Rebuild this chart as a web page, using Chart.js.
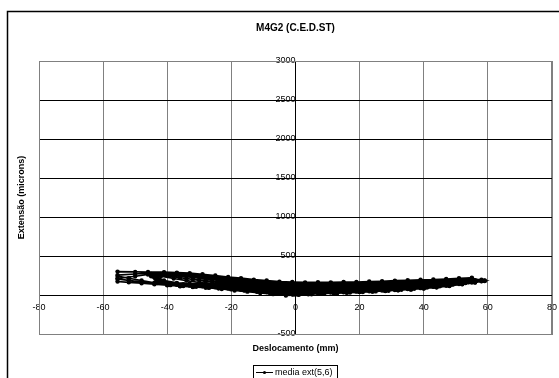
<!DOCTYPE html>
<html>
<head>
<meta charset="utf-8">
<title>M4G2 (C.E.D.ST)</title>
<script src="https://cdn.jsdelivr.net/npm/chart.js@4.4.1/dist/chart.umd.min.js"></script>
<style>
    html, body { margin: 0; padding: 0; background: #fff; overflow: hidden; }
    canvas { display: block; }
</style>
</head>
<body>
<canvas id="grafico" width="559" height="378"></canvas>
<script>

//
// Deslocamento (mm) for each half cycle: outgoing (ida) and return (volta).
// The logger did not sample at the same positions on every cycle.
//
const deslIda = [-45, -41, -37, -33, -29, -25, -21, -17, -13, -9, -5, -1, 3, 7, 11, 15, 19, 23, 27, 31, 35, 39, 43, 47, 51, 55, 58];
const deslIdaB = [-45, -43, -39, -35, -31, -27, -23, -19, -15, -11, -7, -3, 1, 5, 9, 13, 17, 21, 25, 29, 33, 37, 41, 45, 49, 53, 58];
const deslVolta = [54, 50, 46, 42, 38, 34, 30, 26, 22, 18, 14, 10, 6, 2, -2, -6, -10, -14, -18, -22, -26, -30, -34, -38, -42];
const deslVoltaB = [56, 52, 48, 44, 40, 36, 32, 28, 24, 20, 16, 12, 8, 4, 0, -4, -8, -12, -16, -20, -24, -28, -32, -36, -40];
const deslIdaLonga = [-55.5, -52, -48, -44, -40, -36, -32, -28, -24, -20, -16, -12, -8, -4, 0, 4, 8, 12, 16, 20, 24, 28, 32, 36, 40, 44, 48, 52, 56, 59];
const deslVoltaLonga = [55, 51, 47, 43, 39, 35, 31, 27, 23, 19, 15, 11, 7, 3, -1, -5, -9, -13, -17, -21, -25, -29, -33, -37, -41, -46, -50, -55.5];

//
// Extensao (microns), one array per half cycle.
//
const extIda1 = [271, 186, 156, 146, 139, 131, 116, 105, 98, 87, 81, 75, 77, 78, 83, 86, 91, 94, 103, 107, 117, 124, 137, 149, 166, 181, 196];
const extVolta1 = [196, 187, 175, 166, 159, 152, 145, 140, 135, 131, 128, 127, 128, 129, 133, 140, 150, 161, 175, 190, 205, 222, 239, 254, 270];
const extIda2 = [268, 180, 148, 140, 132, 123, 106, 97, 85, 77, 65, 61, 60, 65, 68, 75, 77, 85, 90, 98, 105, 117, 127, 143, 157, 176, 190];
const extVolta2 = [189, 178, 165, 155, 148, 140, 133, 128, 122, 119, 116, 116, 116, 118, 123, 130, 139, 149, 162, 177, 190, 206, 226, 243, 263];
const extIda3 = [263, 172, 144, 132, 127, 114, 100, 86, 76, 62, 53, 43, 47, 50, 57, 60, 67, 71, 80, 86, 97, 106, 121, 134, 153, 169, 186];
const extVolta3 = [181, 169, 155, 145, 136, 128, 120, 115, 110, 107, 105, 104, 105, 107, 112, 119, 128, 137, 149, 163, 175, 191, 212, 233, 255];
const extIda4 = [256, 166, 138, 126, 118, 108, 90, 78, 63, 52, 37, 28, 29, 38, 43, 50, 53, 62, 67, 77, 84, 99, 110, 128, 144, 166, 182];
const extVolta4 = [173, 159, 145, 133, 124, 114, 107, 102, 97, 94, 92, 92, 93, 96, 101, 108, 116, 124, 135, 149, 160, 175, 198, 221, 247];
const extIda5 = [248, 160, 132, 120, 113, 99, 84, 67, 54, 37, 25, 10, 16, 23, 32, 35, 43, 48, 57, 65, 76, 88, 104, 119, 140, 159, 178];
const extVolta5 = [164, 151, 134, 123, 111, 103, 94, 91, 84, 83, 79, 81, 81, 86, 89, 99, 104, 113, 121, 136, 144, 161, 184, 211, 240];
const extIda6 = [241, 154, 126, 114, 106, 91, 76, 57, 43, 25, 11, -6, 1, 9, 19, 23, 31, 37, 46, 54, 66, 79, 96, 111, 133, 154, 176];
const extVolta6 = [222, 214, 206, 199, 196, 189, 184, 177, 173, 167, 166, 162, 163, 162, 167, 171, 185, 197, 216, 231, 251, 267, 281, 287, 293, 295, 297, 300];
const extIdaA = [242, 215, 185, 158, 138, 122, 112, 102, 92, 80, 66, 50, 35, 22, 15, 18, 24, 30, 36, 42, 48, 55, 64, 75, 88, 103, 122, 142, 165, 185];
const extVoltaA = [212, 206, 195, 189, 183, 178, 171, 166, 160, 156, 153, 151, 151, 152, 155, 162, 173, 186, 202, 218, 235, 253, 267, 277, 286, 280, 270, 255];
const extIdaB = [205, 188, 165, 145, 128, 115, 104, 95, 85, 72, 57, 42, 28, 16, 10, 14, 20, 27, 33, 40, 46, 53, 62, 72, 85, 100, 118, 140, 162, 182];
const extVoltaB = [204, 196, 185, 177, 171, 164, 157, 153, 147, 143, 140, 139, 139, 140, 144, 150, 161, 173, 188, 204, 219, 237, 252, 265, 278, 262, 240, 212];
const extIdaC = [172, 162, 150, 138, 125, 112, 103, 96, 87, 76, 62, 47, 32, 18, 8, 10, 17, 24, 30, 37, 44, 51, 60, 70, 83, 98, 115, 137, 160, 180];

// Order in which the test went through the half cycles.
const sequencia = [
    [deslIda, extIda1], [deslVolta, extVolta1],
    [deslIdaB, extIda2], [deslVoltaB, extVolta2],
    [deslIda, extIda3], [deslVolta, extVolta3],
    [deslIdaB, extIda4], [deslVoltaB, extVolta4],
    [deslIda, extIda5], [deslVolta, extVolta5],
    [deslIdaB, extIda6], [deslVoltaLonga, extVolta6],
    [deslIdaLonga, extIdaA], [deslVoltaLonga, extVoltaA],
    [deslIdaLonga, extIdaB], [deslVoltaLonga, extVoltaB],
    [deslIdaLonga, extIdaC],
];

const xTicks = [-80, -60, -40, -20, 0, 20, 40, 60, 80];
const yTicks = [-500, 0, 500, 1000, 1500, 2000, 2500, 3000];

const tituloGrafico = "M4G2 (C.E.D.ST)";
const tituloX = "Deslocamento (mm)";
const tituloY = "Extensão (microns)";
const nomeSerie = "media ext(5,6)";

const fonte = "'Liberation Sans', Arial, sans-serif";


/**
* Join the half cycles into one list of points.
*/
function montarPontos() {

    var pontos = [];
    sequencia.forEach(([xs, ys]) => {
        xs.forEach((x, i) => {
            pontos.push({x: x, y: ys[i]});
        });
    });
    return(pontos);

} // End of montarPontos()


/**
* Frame, texts and legend in the Excel style.
*/
const moldura = {
    id: "moldura",

    beforeDraw(chart) {
        const ctx = chart.ctx;
        ctx.save();
        ctx.fillStyle = "#fff";
        ctx.fillRect(0, 0, chart.width, chart.height);
        ctx.strokeStyle = "#000";
        ctx.lineWidth = 1.5;
        ctx.beginPath();
        ctx.moveTo(7.5, chart.height);
        ctx.lineTo(7.5, 11.5);
        ctx.lineTo(chart.width, 11.5);
        ctx.stroke();
        ctx.restore();
    },

    afterDraw(chart) {
        const ctx = chart.ctx;
        const area = chart.chartArea;
        const cx = (area.left + area.right) / 2;
        const cy = (area.top + area.bottom) / 2;

        ctx.save();

        // Plot area border
        ctx.strokeStyle = "#808080";
        ctx.lineWidth = 1;
        ctx.strokeRect(Math.round(area.left) + 0.5, Math.round(area.top) + 0.5,
            Math.round(area.right - area.left), Math.round(area.bottom - area.top));

        ctx.fillStyle = "#000";
        ctx.textAlign = "center";
        ctx.textBaseline = "middle";

        ctx.font = "bold 10px " + fonte;
        ctx.fillText(tituloGrafico, cx, 28);

        ctx.font = "bold 9px " + fonte;
        ctx.fillText(tituloX, cx, 349);

        ctx.translate(22, cy);
        ctx.rotate(-Math.PI / 2);
        ctx.fillText(tituloY, 0, 0);
        ctx.setTransform(1, 0, 0, 1, 0, 0);

        // Legend
        ctx.strokeStyle = "#000";
        ctx.strokeRect(253.5, 365.5, 84, 20);
        ctx.beginPath();
        ctx.moveTo(256, 372.5);
        ctx.lineTo(273, 372.5);
        ctx.stroke();
        ctx.beginPath();
        ctx.arc(264.5, 372.5, 1.6, 0, Math.PI * 2);
        ctx.fill();
        ctx.font = "9px " + fonte;
        ctx.textAlign = "left";
        ctx.fillText(nomeSerie, 275, 372.5);

        ctx.restore();
    }
};


/**
* Draw the chart.
*/
function desenharGrafico() {

    var data = {
        datasets: [{
            label: nomeSerie,
            data: montarPontos(),
            showLine: true,
            borderColor: "#000",
            borderWidth: 1.6,
            pointStyle: "circle",
            pointRadius: 2.2,
            pointBackgroundColor: "#000",
            pointBorderColor: "#000",
            pointBorderWidth: 0,
            tension: 0,
        }],
    };

    var options = {
        responsive: false,
        animation: false,
        events: [],
        layout: {
            padding: {left: 39, top: 61, right: 7, bottom: 44},
        },
        scales: {
            x: {
                type: "linear",
                min: -80,
                max: 80,
                position: {y: 0},
                afterBuildTicks: (scale) => {
                    scale.ticks = xTicks.map(v => ({value: v}));
                },
                grid: {
                    color: "#808080",
                    lineWidth: 1,
                    tickLength: 5,
                    tickColor: "#808080",
                },
                border: {color: "#000", width: 1},
                ticks: {
                    color: "#000",
                    font: {family: fonte, size: 9},
                    padding: 2,
                    maxRotation: 0,
                    callback: (v) => String(v),
                },
            },
            y: {
                type: "linear",
                min: -500,
                max: 3000,
                position: {x: 0},
                afterBuildTicks: (scale) => {
                    scale.ticks = yTicks.map(v => ({value: v}));
                },
                grid: {
                    color: (c) => (c.tick && (c.tick.value === 3000 || c.tick.value === -500)) ? "#808080" : "#000",
                    lineWidth: 1,
                    tickLength: 5,
                    tickColor: "#000",
                },
                border: {color: "#000", width: 1},
                ticks: {
                    color: "#000",
                    font: {family: fonte, size: 9},
                    padding: 2,
                    callback: (v) => String(v),
                },
            },
        },
        plugins: {
            legend: {display: false},
            title: {display: false},
            tooltip: {enabled: false},
        },
    };

    var canvas = document.getElementById("grafico").getContext("2d");
    window.chart = new Chart(canvas, {
        type: "scatter",
        data: data,
        options: options,
        plugins: [moldura],
    });

} // End of desenharGrafico()

desenharGrafico();

</script>
</body>
</html>
